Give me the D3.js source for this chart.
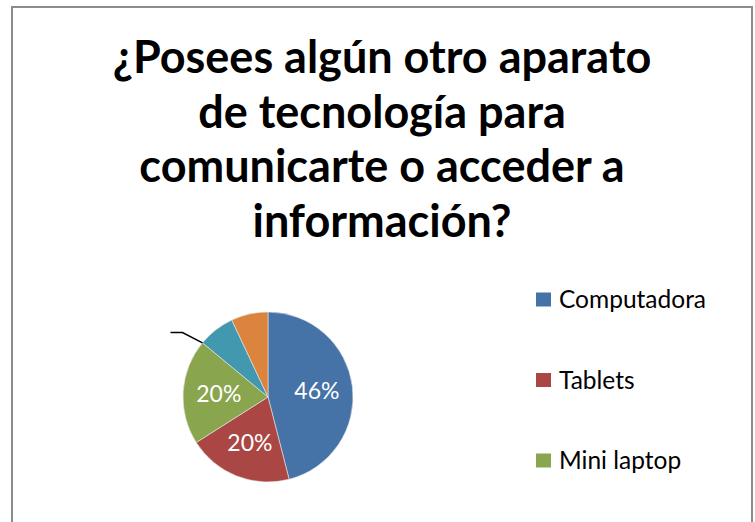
<!DOCTYPE html>
<html><head><meta charset="utf-8">
<script src="https://cdn.jsdelivr.net/npm/d3@7"></script>
<style>
html,body{margin:0;padding:0;background:#fff;}
svg{display:block;}
</style></head>
<body>
<svg id="chart" width="755" height="522"></svg>
<script>
const titleLines = ["¿Posees algún otro aparato", "de tecnología para", "comunicarte o acceder a", "información?"];
const categories = ["Computadora", "Tablets", "Mini laptop", "Otro", "Ninguno"];
const values = [46, 20, 20, 7, 7];
const colors = ["#4572A7", "#AA4643", "#89A54E", "#4198AF", "#DB843D"];
const legendCount = 3; // only first three entries fit in the legend
const labeledSlices = [0, 1, 2];

const svg = d3.select("#chart");

// chart border
svg.append("rect").attr("x", 12).attr("y", 7).attr("width", 740).attr("height", 530)
  .attr("fill", "#fff").attr("stroke", "#8c8c8c").attr("stroke-width", 2);

// title
const title = svg.append("g");
titleLines.forEach((t, i) => {
  title.append("text").attr("x", 382).attr("y", 73 + i * 54.6)
    .attr("text-anchor", "middle")
    .attr("font-family", "Lato, 'Open Sans', sans-serif")
    .attr("font-weight", "bold").attr("font-size", 45).attr("fill", "#000")
    .text(t);
});

// pie
const cx = 268, cy = 397, R = 85;
const data = categories.map((c, i) => ({ cat: c, value: values[i], color: colors[i], idx: i }));
const pie = d3.pie().sort(null).value(d => d.value);
const arcs = pie(data);
const arc = d3.arc().innerRadius(0).outerRadius(R);
const labelArc = d3.arc().innerRadius(R * 0.58).outerRadius(R * 0.58);

const g = svg.append("g").attr("transform", `translate(${cx},${cy})`);
g.selectAll("path.slice").data(arcs).join("path")
  .attr("class", "slice")
  .attr("d", arc)
  .attr("fill", d => d.data.color)
  .attr("stroke", "#e8e8e8").attr("stroke-width", 0.6);

g.selectAll("text.lbl").data(arcs.filter(a => labeledSlices.includes(a.data.idx))).join("text")
  .attr("class", "lbl")
  .attr("transform", d => {
    const [x, y] = labelArc.centroid(d);
    return `translate(${x},${y})`;
  })
  .attr("text-anchor", "middle").attr("dy", "0.36em")
  .attr("font-family", "Lato, 'Open Sans', sans-serif")
  .attr("font-size", 23).attr("fill", "#fff")
  .text(d => d.data.value + "%");

// leader line for the slice whose label fell outside the chart
const lead = arcs[3];
const a0 = lead.startAngle;
const p1 = [R * Math.sin(a0), -R * Math.cos(a0)];
const a1 = a0 - 0.045, R2 = R * 1.26;
const p2 = [R2 * Math.sin(a1), -R2 * Math.cos(a1)];
const p3 = [p2[0] - 12, p2[1]];
g.append("path")
  .attr("d", d3.line()([p1, p2, p3]))
  .attr("fill", "none").attr("stroke", "#000").attr("stroke-width", 1.5);

// legend
const leg = svg.append("g");
const legY = d3.scalePoint().domain(d3.range(legendCount)).range([299.5, 460.5]);
data.slice(0, legendCount).forEach((d, i) => {
  const y = legY(i);
  leg.append("rect").attr("x", 536).attr("y", y - 7).attr("width", 15).attr("height", 14)
    .attr("fill", d.color);
  leg.append("text").attr("x", 559).attr("y", y).attr("dy", "0.36em")
    .attr("font-family", "Lato, 'Open Sans', sans-serif")
    .attr("font-size", 24.5).attr("fill", "#000")
    .text(d.cat);
});
</script>
</body></html>
